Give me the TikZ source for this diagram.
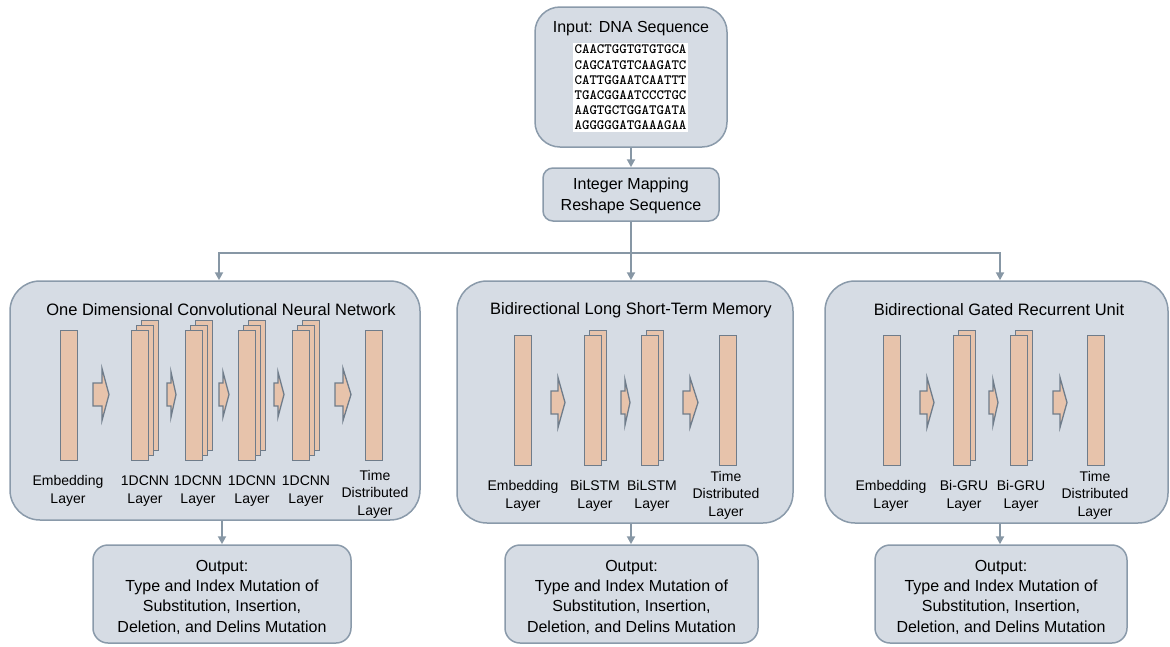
\documentclass[tikz,border=0pt]{standalone}
\usepackage{fontspec}
\setmainfont{Liberation Sans}
\usetikzlibrary{arrows.meta}

\definecolor{panelfill}{HTML}{D6DCE4}
\definecolor{paneledge}{HTML}{8A9AAA}
\definecolor{layerfill}{HTML}{E7C3AB}
\definecolor{layeredge}{HTML}{6F7C8A}
\definecolor{linkcol}{HTML}{8797A5}

\tikzset{
  panel/.style={draw=paneledge, fill=panelfill, line width=1.5pt, inner sep=0pt},
  layer/.style={draw=layeredge, fill=layerfill, line width=1.4pt, inner sep=0pt,
                minimum width=17pt, minimum height=130pt, anchor=north west},
  blockarr/.style={draw=layeredge, fill=layerfill, line width=1.3pt, line join=miter},
  conn/.style={draw=linkcol, line width=2pt, -{Triangle[width=8pt,length=8pt]}},
  txt/.style={font=\fontsize{16}{20.3}\selectfont, align=center, inner sep=0pt},
  ttl/.style={font=\fontsize{16.5}{20}\selectfont, inner sep=0pt},
  lbl/.style={font=\fontsize{14}{17.6}\selectfont, align=center, inner sep=0pt},
}

% right-pointing block arrow: x-left, head start, tip, y-centre, body half height, head half height
\newcommand\blockarrow[6]{%
  \draw[blockarr] (#1,#4-#5) -- (#2,#4-#5) -- (#2,#4-#6) -- (#3,#4)
    -- (#2,#4+#6) -- (#2,#4+#5) -- (#1,#4+#5) -- cycle;}

\begin{document}
\begin{tikzpicture}[x=1pt, y=-1pt]
\useasboundingbox (0,0) rectangle (1170,646);

% ---------- input and preprocessing ----------
\node[panel, rounded corners=25pt, minimum width=192pt, minimum height=140pt] (input) at (631,77) {};
\node[txt] (inputT) at (631,29) {Input: DNA Sequence};
\node[fill=white, inner sep=2pt, font=\ttfamily\bfseries\fontsize{14.2}{15.2}\selectfont, align=left] (seq) at (630.5,87.5)
  {CAACTGGTGTGTGCA\\CAGCATGTCAAGATC\\CATTGGAATCAATTT\\TGACGGAATCCCTGC\\AAGTGCTGGATGATA\\AGGGGGATGAAAGAA};

\node[panel, rounded corners=10pt, minimum width=176pt, minimum height=53pt] (map) at (631,194.5) {};
\node[txt] (mapT) at (631,196) {Integer Mapping\\Reshape Sequence};

% ---------- model panels ----------
\node[panel, rounded corners=30pt, minimum width=410pt, minimum height=239pt] (cnn) at (215,400.5) {};
\node[panel, rounded corners=30pt, minimum width=336pt, minimum height=242pt] (lstm) at (625,402) {};
\node[panel, rounded corners=30pt, minimum width=343pt, minimum height=242pt] (gru) at (996.5,402) {};

\node[ttl] (cnnT) at (221,310) {One Dimensional Convolutional Neural Network};
\node[ttl] (lstmT) at (631,310) {Bidirectional Long Short-Term Memory};
\node[ttl] (gruT) at (999,310) {Bidirectional Gated Recurrent Unit};

% ---------- 1D CNN layers ----------
\node[layer] (cEmb) at (60,330) {};
\foreach \i/\x in {1/131,2/185,3/238,4/292}{
  \node[layer] (c\i c) at (\x+10,320) {};
  \node[layer] (c\i b) at (\x+5,325) {};
  \node[layer] (c\i a) at (\x,330) {};
}
\node[layer] (cTD) at (365,330) {};

\blockarrow{93}{102}{109}{394.5}{11.5}{26}
\blockarrow{167}{171}{176}{394.5}{11.5}{22.5}
\blockarrow{219}{223}{229}{394.5}{11.5}{22.5}
\blockarrow{274}{278}{284}{394.5}{11.5}{22.5}
\blockarrow{335}{343}{351}{394.5}{11.5}{26}

\node[lbl] (cEmbL) at (68,491) {Embedding\\Layer};
\node[lbl] (c1L) at (145,491) {1DCNN\\Layer};
\node[lbl] (c2L) at (198,491) {1DCNN\\Layer};
\node[lbl] (c3L) at (252,491) {1DCNN\\Layer};
\node[lbl] (c4L) at (306,491) {1DCNN\\Layer};
\node[lbl] (cTDL) at (375,494) {Time\\Distributed\\Layer};

% ---------- BiLSTM layers ----------
\node[layer] (lEmb) at (514,335) {};
\foreach \i/\x in {1/584,2/641}{
  \node[layer] (l\i b) at (\x+5,330) {};
  \node[layer] (l\i a) at (\x,335) {};
}
\node[layer] (lTD) at (719,335) {};

\blockarrow{551}{558}{565}{402.5}{11.5}{25}
\blockarrow{621}{625}{630}{402.5}{11.5}{22.5}
\blockarrow{683}{690}{698}{402.5}{11.5}{25}

\node[lbl] (lEmbL) at (523,496) {Embedding\\Layer};
\node[lbl] (l1L) at (595,496) {BiLSTM\\Layer};
\node[lbl] (l2L) at (652,496) {BiLSTM\\Layer};
\node[lbl] (lTDL) at (726,495) {Time\\Distributed\\Layer};

% ---------- Bi-GRU layers ----------
\node[layer] (gEmb) at (883,335) {};
\foreach \i/\x in {1/953,2/1010}{
  \node[layer] (g\i b) at (\x+5,330) {};
  \node[layer] (g\i a) at (\x,335) {};
}
\node[layer] (gTD) at (1087,335) {};

\blockarrow{920}{927}{934}{402.5}{11.5}{25}
\blockarrow{989}{993}{998}{402.5}{11.5}{22.5}
\blockarrow{1053}{1060}{1067}{402.5}{11.5}{25}

\node[lbl] (gEmbL) at (891,496) {Embedding\\Layer};
\node[lbl] (g1L) at (964,496) {Bi-GRU\\Layer};
\node[lbl] (g2L) at (1021,496) {Bi-GRU\\Layer};
\node[lbl] (gTDL) at (1095,495) {Time\\Distributed\\Layer};

% ---------- outputs ----------
\node[panel, rounded corners=15pt, minimum width=258pt, minimum height=98pt] (out1) at (222,594) {};
\node[panel, rounded corners=15pt, minimum width=253pt, minimum height=98pt] (out2) at (631.5,594) {};
\node[panel, rounded corners=15pt, minimum width=252pt, minimum height=98pt] (out3) at (1001,594) {};
\foreach \o in {out1,out2,out3}{
  \node[txt] (\o T) at ([yshift=-3pt]\o.center)
    {Output:\\Type and Index Mutation of\\Substitution, Insertion,\\Deletion, and Delins Mutation};
}

% ---------- connectors ----------
\coordinate (split) at (631,253);
\draw[conn] (input.south) -- (map.north);
\draw[draw=linkcol, line width=2pt] (map.south) -- (split);
\draw[conn] (split) -| ([xshift=4pt]cnn.north);
\draw[conn] (split) -- (split |- lstm.north);
\draw[conn] (split) -| ([xshift=3.5pt]gru.north);
\draw[conn] (out1.north |- cnn.south) -- (out1.north);
\draw[conn] (split |- lstm.south) -- (split |- out2.north);
\draw[conn] ([xshift=3.5pt]gru.south) -- ([xshift=3.5pt]gru.south |- out3.north);
\end{tikzpicture}
\end{document}
